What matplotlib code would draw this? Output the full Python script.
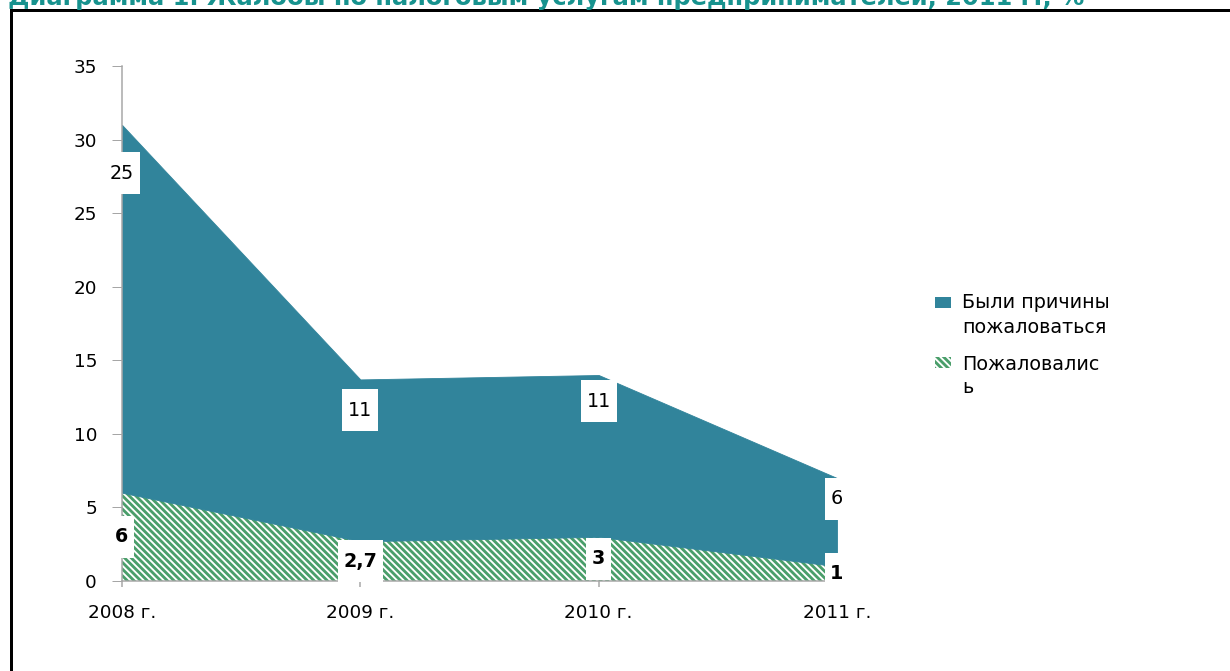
import matplotlib
matplotlib.use('Agg')
import matplotlib.pyplot as plt
from matplotlib.path import Path
from matplotlib.patches import Rectangle
from matplotlib.lines import Line2D
import numpy as np

# ---------------- data ----------------
years = ['2008 г.', '2009 г.', '2010 г.', '2011 г.']
complained = [6, 2.7, 3, 1]                 # "Пожаловались"
had_reasons = [25, 11, 11, 6]               # "Были причины пожаловаться"
complained_labels = ['6', '2,7', '3', '1']
reasons_labels = ['25', '11', '11', '6']
series_names = ['Были причины\nпожаловаться', 'Пожаловалис\nь']
title = 'Диаграмма 1. Жалобы по налоговым услугам предпринимателей, 2011 г., %'
y_ticks = [0, 5, 10, 15, 20, 25, 30, 35]

# label placement for the upper series (layout, data units)
reasons_label_y = [27.7, 11.6, 12.2, 5.6]

# ---------------- style ----------------
TEAL = '#31849B'
GREEN = '#4A9E6A'
AXIS_GRAY = '#A6A6A6'
TITLE_COLOR = '#17928E'
HATCH = '\\' * 6

DPI = 120
W, H = 1230, 671
plt.rcParams['font.family'] = ['DejaVu Sans']
plt.rcParams['hatch.linewidth'] = 1.7
plt.rcParams['hatch.color'] = GREEN

fig = plt.figure(figsize=(W / DPI, H / DPI), dpi=DPI)
ax = fig.add_axes([122 / W, 1 - 581 / H, (837 - 122) / W, (581 - 66) / H])

x = np.arange(len(years))
bottom = np.array(complained, dtype=float)
top = bottom + np.array(had_reasons, dtype=float)

ax.fill_between(x, 0, bottom, facecolor='white', edgecolor=GREEN,
                hatch=HATCH, linewidth=0, zorder=1)
ax.fill_between(x, bottom, top, facecolor=TEAL, edgecolor=TEAL,
                linewidth=0.5, zorder=1)


def label_box(x0, y0, width, height, mutation_size):
    px = 0.3 * mutation_size
    py = 0.6 * mutation_size
    return Path([(x0 - px, y0 - py), (x0 + width + px, y0 - py),
                 (x0 + width + px, y0 + height + py),
                 (x0 - px, y0 + height + py), (x0 - px, y0 - py)],
                closed=True)


box = dict(boxstyle=label_box, facecolor='white', edgecolor='none')
for xi, lab, yy in zip(x, reasons_labels, reasons_label_y):
    ax.text(xi, yy, lab, ha='center', va='center', fontsize=11.5,
            color='black', bbox=box, zorder=5)
for xi, lab, v in zip(x, complained_labels, bottom):
    ax.text(xi, v / 2, lab, ha='center', va='center', fontsize=11.5,
            fontweight='bold', color='black', bbox=box, zorder=5)

ax.set_xlim(0, len(years) - 1)
ax.set_ylim(0, 35)
ax.set_yticks(y_ticks)
ax.set_xticks(x, years)
for s in ['top', 'right']:
    ax.spines[s].set_visible(False)
for s in ['left', 'bottom']:
    ax.spines[s].set_color(AXIS_GRAY)
    ax.spines[s].set_linewidth(0.9)
ax.tick_params(axis='y', length=6, width=0.6, color=AXIS_GRAY, pad=9,
               labelsize=11)
ax.tick_params(axis='x', length=3.6, width=0.9, color=AXIS_GRAY, pad=10,
               labelsize=11)
ax.patch.set_alpha(0)

# ---------------- legend (manual) ----------------
fig.add_artist(Rectangle((935 / W, 1 - 308 / H), 16 / W, 11 / H,
                         transform=fig.transFigure, facecolor=TEAL,
                         edgecolor='none'))
fig.add_artist(Rectangle((935 / W, 1 - 368 / H), 16 / W, 11 / H,
                         transform=fig.transFigure, facecolor='white',
                         edgecolor=GREEN, hatch=HATCH, linewidth=0))
for name, base, step in [(series_names[0], 308, 25), (series_names[1], 370, 23)]:
    for i, line in enumerate(name.split('\n')):
        fig.text(962 / W, 1 - (base + i * step) / H, line, fontsize=11.5,
                 va='baseline', ha='left')

# ---------------- frame & title ----------------
fig.add_artist(Line2D([11 / W, 11 / W, 1], [0, 1 - 10 / H, 1 - 10 / H],
                      transform=fig.transFigure, color='black',
                      linewidth=3 * 72 / DPI, solid_joinstyle='miter'))
fig.text(8 / W, 1 - 5 / H, title, fontsize=14.5, fontweight='bold',
         color=TITLE_COLOR, va='baseline', ha='left')

fig.savefig('out.png', dpi=DPI)
